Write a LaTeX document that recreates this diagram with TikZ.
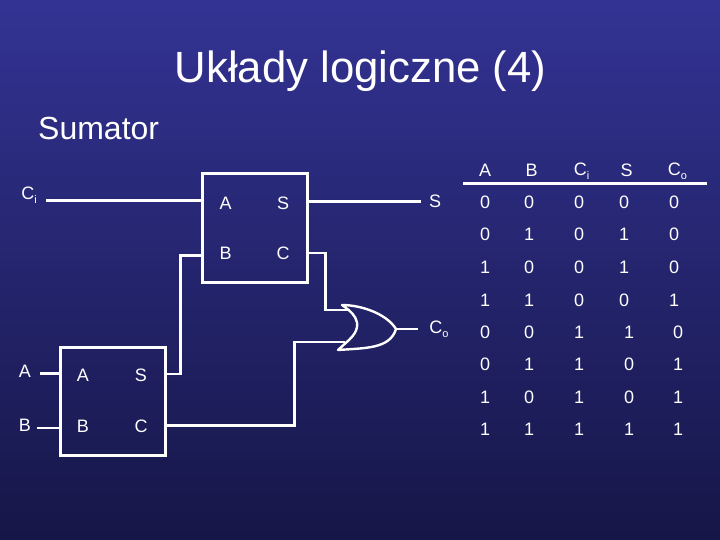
\documentclass[tikz,border=0pt]{standalone}
\usepackage{fontspec}
\setmainfont{Liberation Sans}
\definecolor{slidetop}{RGB}{51,51,148}
\definecolor{slidebottom}{RGB}{22,22,72}
\tikzset{
  wire/.style={white, line width=2.6pt},
  box/.style={draw=white, line width=3pt, minimum width=105pt, minimum height=108pt, inner sep=0pt},
  pin/.style={white, font=\fontsize{18}{18}\selectfont},
  cell/.style={white, font=\fontsize{18}{18}\selectfont},
}
\newcommand{\subs}[2]{#1\raisebox{-4pt}{\fontsize{11}{11}\selectfont #2}}
\begin{document}
\begin{tikzpicture}[x=1pt,y=-1pt]
\useasboundingbox (0,0) rectangle (720,540);
\shade[top color=slidetop, bottom color=slidebottom] (0,0) rectangle (720,540);
\node[white, font=\fontsize{43.7}{44}\selectfont, anchor=base, inner sep=0pt] (title) at (360.5,83) {Układy logiczne (4)};
\node[white, font=\fontsize{32}{32}\selectfont, anchor=base west, inner sep=0pt] (subtitle) at (38,140) {Sumator};
% Polsumatory
\node[box] (ha1) at (254.5,228) {};
\node[box] (ha2) at (112.5,401) {};
\node[pin] (ha1a) at (225.5,203) {A};
\node[pin] (ha1s) at (283,203.5) {S};
\node[pin] (ha1b) at (225.5,253.5) {B};
\node[pin] (ha1c) at (283,253.5) {C};
\node[pin] (ha2a) at (83,375) {A};
\node[pin] (ha2s) at (141,375.5) {S};
\node[pin] (ha2b) at (83,426.5) {B};
\node[pin] (ha2c) at (141,426.5) {C};
% Wejscia i wyjscia
\node[pin] (ci) at (29,195.5) {\subs{C}{i}};
\node[pin] (ina) at (25,371.5) {A};
\node[pin] (inb) at (25,425.5) {B};
\node[pin] (outs) at (435,201) {S};
\node[pin] (outc) at (439,329.5) {\subs{C}{o}};
% Bramka OR
\coordinate (ortop) at (342,305);
\coordinate (orbot) at (338,350);
\coordinate (ornose) at (396,329);
\coordinate (orin1) at (350,310);
\coordinate (orin2) at (345,342);
\draw[white, line width=2.4pt, line join=round] (ortop) .. controls (349,310) and (368,322) .. (349,340) -- (orbot)
  .. controls (365,348) and (390,349) .. (ornose) .. controls (386,313) and (360,305) .. cycle;
% Polaczenia
\draw[wire] (46,200.7) -- (ha1.west |- 0,200.7);
\draw[wire] (ha1.east |- 0,201.7) -- (421,201.7);
\draw[wire] (ha1.east |- 0,253) -| (325.5,310) -- (orin1);
\draw[wire] (ha1.west |- 0,255.5) -| (180.5,374) -- (ha2.east |- 0,374);
\draw[wire] (ha2.east |- 0,425.3) -| (294.5,342) -- (orin2);
\draw[wire, line width=3pt] (40,373.3) -- (ha2.west |- 0,373.3);
\draw[wire, line width=1.8pt] (37,427.7) -- (ha2.west |- 0,427.7);
\draw[wire] (ornose) -- (417.5,329);
% Tablica prawdy
\node[cell] (hA) at (485,170) {A};
\node[cell] (hB) at (531.5,170) {B};
\node[cell] (hC) at (581.5,171) {\subs{C}{i}};
\node[cell] (hS) at (626.5,170) {S};
\node[cell] (hO) at (677.5,171) {\subs{C}{o}};
\coordinate (rulel) at (463,184);
\coordinate (ruler) at (707,184);
\draw[white, line width=3pt] (rulel) -- (ruler);
\foreach \y/\a/\b/\c/\s/\o in {202/0/0/0/0/0, 234.5/0/1/0/1/0, 267/1/0/0/1/0, 300/1/1/0/0/1}{
  \node[cell] at (485,\y) {\a};
  \node[cell] at (529,\y) {\b};
  \node[cell] at (579,\y) {\c};
  \node[cell] at (624,\y) {\s};
  \node[cell] at (674,\y) {\o};
}
\foreach \y/\a/\b/\c/\s/\o in {332/0/0/1/1/0, 364/0/1/1/0/1, 397/1/0/1/0/1, 429/1/1/1/1/1}{
  \node[cell] at (485,\y) {\a};
  \node[cell] at (529,\y) {\b};
  \node[cell] at (579,\y) {\c};
  \node[cell] at (629,\y) {\s};
  \node[cell] at (678,\y) {\o};
}
\end{tikzpicture}
\end{document}
